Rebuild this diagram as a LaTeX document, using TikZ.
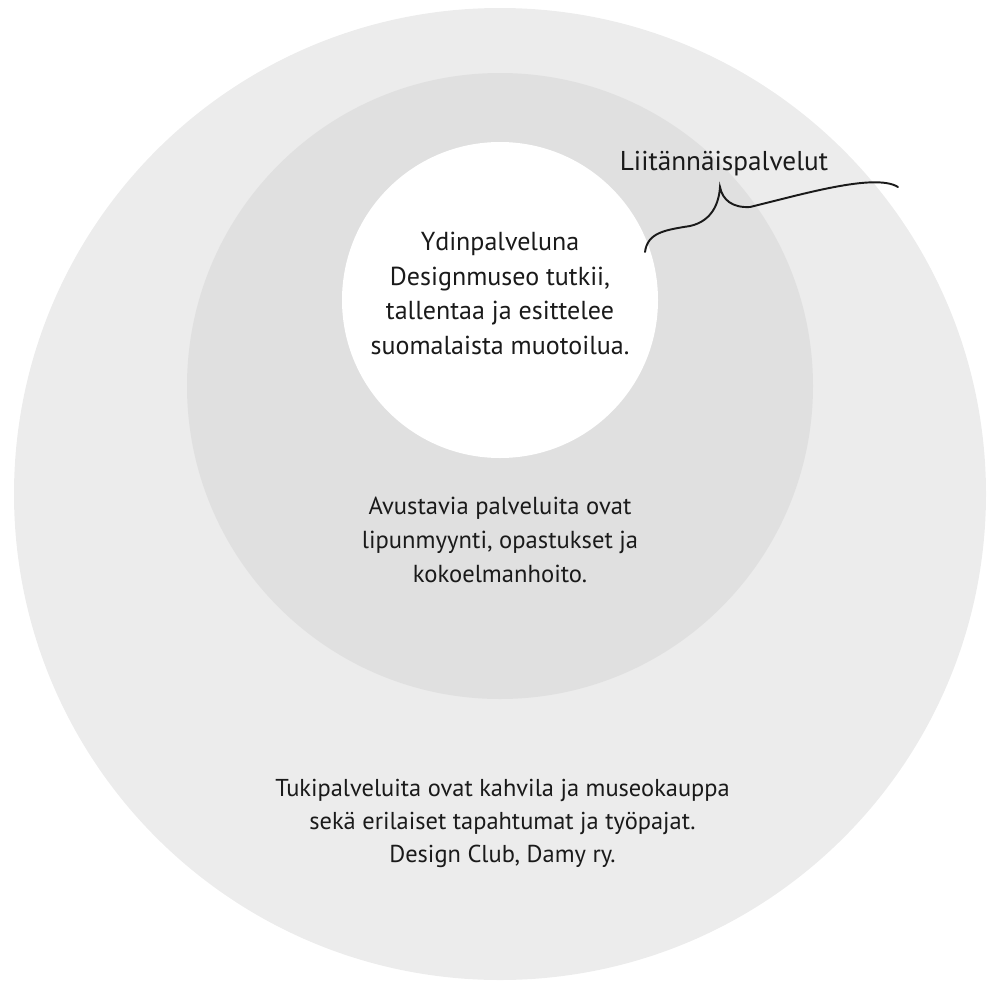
\documentclass[tikz,border=0pt]{standalone}
\usepackage{fontspec}
\setmainfont{PT Sans}
\usetikzlibrary{calc}

\definecolor{ringout}{HTML}{ECECEC}
\definecolor{ringmid}{HTML}{E0E0E0}
\definecolor{inktxt}{HTML}{1A1A1A}

\tikzset{
	ringtxt/.style = {align=center, text=inktxt, inner sep=0pt},
	bracestyle/.style = {draw=inktxt, line width=1.1pt, line cap=round},
}

\begin{document}
\begin{tikzpicture}[line cap = round]
%		\draw (0,0) grid (20,-20);
		\useasboundingbox (0,0) rectangle (19.74,-19.74);
		
		\coordinate (Cout) at (10,-9.88);
		\coordinate (Cmid) at (10,-7.72);
		\coordinate (Cin) at (10,-6.0);
		
		\fill[ringout] (Cout) circle (9.72);
		\fill[ringmid] (Cmid) circle (6.26);
		\fill[white] (Cin) circle (3.16);
		
		\node[ringtxt, font=\fontsize{14.8}{19.6}\selectfont] (core) at (10,-5.87)
			{Ydinpalveluna\\Designmuseo tutkii,\\tallentaa ja esittelee\\suomalaista muotoilua.};
		\node[ringtxt, font=\fontsize{14}{19.3}\selectfont] (aux) at (10,-10.8)
			{Avustavia palveluita ovat\\lipunmyynti, opastukset ja\\kokoelmanhoito.};
		\node[ringtxt, font=\fontsize{13.9}{18.8}\selectfont] (supp) at (10.05,-16.46)
			{Tukipalveluita ovat kahvila ja museokauppa\\sekä erilaiset tapahtumat ja työpajat.\\Design Club, Damy ry.};
		\node[ringtxt, font=\fontsize{15.5}{17}\selectfont] (extra) at (14.48,-3.28)
			{Liitännäispalvelut};
		
		\coordinate (brA) at (12.9,-5.04);
		\coordinate (brB) at (13.8,-4.52);
		\coordinate (brTip) at (14.4,-3.74);
		\coordinate (brC) at (15.0,-4.14);
		\coordinate (brD) at (17.96,-3.74);
		
		\draw[bracestyle] (brA) .. controls (12.95,-4.65) and (13.3,-4.6) .. (brB)
			.. controls (14.25,-4.42) and (14.38,-4.05) .. (brTip)
			.. controls (14.45,-4.0) and (14.65,-4.16) .. (brC)
			.. controls (16.0,-3.9) and (17.5,-3.45) .. (brD);
	\end{tikzpicture}
\end{document}
